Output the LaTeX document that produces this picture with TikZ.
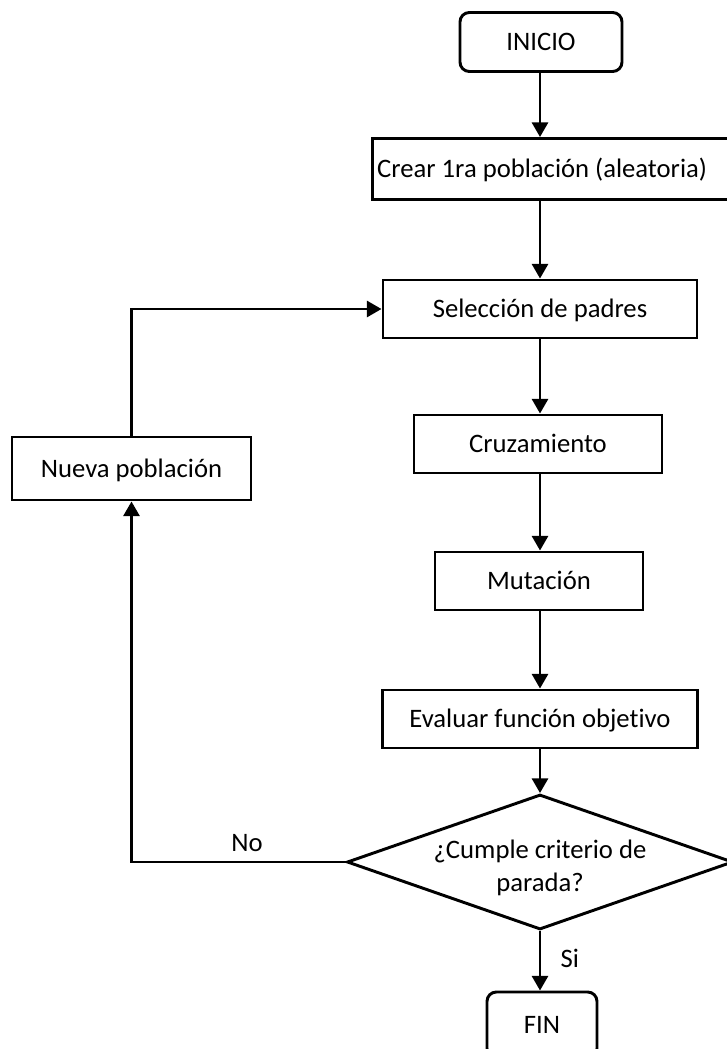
\documentclass[tikz,border=0pt]{standalone}
\usepackage{fontspec}
\setmainfont{Carlito}[Ligatures=NoCommon]
\usetikzlibrary{shapes.geometric,arrows.meta}
\tikzset{label text/.style = {font=\fontsize{20}{25}\selectfont}}
\tikzset{block/.style = {draw=black,line width=2.2pt,inner sep=0pt,text height=12.9pt,text depth=0pt,label text}}
\tikzset{term/.style = {block,rounded corners=7pt}}
\tikzset{decision/.style = {draw=black,line width=2.2pt,inner sep=0pt,diamond,label text}}
\tikzset{arrow/.style = {-{Triangle[width=12pt,length=11pt]},line width=2.2pt}}

\begin{document}
\begin{tikzpicture}[x=0.75pt,y=-0.75pt]
		\useasboundingbox (0,0) rectangle (727,1049);
		\node[term, minimum width=121.5pt, minimum height=44.25pt] (inicio) at (541,42) {INICIO};
		\node[block, minimum height=45.75pt, inner xsep=3.75pt, text width=264.5pt, align=flush left] (crear) at (553.5,169) {Crear 1ra población (aleatoria)};
		\node[block, minimum width=235.5pt, minimum height=43.5pt] (sel) at (540,309) {Selección de padres};
		\node[block, minimum width=186pt, minimum height=43.5pt] (cruz) at (538,444) {Cruzamiento};
		\node[block, minimum width=156pt, minimum height=43.5pt] (mut) at (539,581) {Mutación};
		\node[block, minimum width=236.25pt, minimum height=43.5pt] (eval) at (540,719) {Evaluar función objetivo};
		\node[decision, minimum width=289.5pt, minimum height=101.25pt] (dec) at (540,862)
			{\makebox[0pt]{\raisebox{-10pt}[0pt][0pt]{\begin{tabular}{@{}c@{}}¿Cumple criterio de\\parada?\end{tabular}}}};
		\node[term, minimum width=82.5pt, minimum height=49.5pt] (fin) at (542,1025) {FIN};
		\node[block, minimum width=179.25pt, minimum height=47.25pt] (nueva) at (131.5,468.5) {Nueva población};
		\draw[arrow] (inicio.south -| dec) -- (crear.north -| dec);
		\draw[arrow] (crear.south -| dec) -- (sel.north -| dec);
		\draw[arrow] (sel.south -| dec) -- (cruz.north -| dec);
		\draw[arrow] (cruz.south -| dec) -- (mut.north -| dec);
		\draw[arrow] (mut.south -| dec) -- (eval.north -| dec);
		\draw[arrow] (eval.south -| dec) -- (dec.north);
		\draw[arrow] (dec.south) -- node[right=11pt, yshift=1.5pt, label text] {Si} (dec.south |- fin.north);
		\draw[arrow] (dec.west) -- node[above=3pt, pos=0.46, label text] {No} (dec.west -| nueva) -- (nueva.south);
		\draw[arrow] (nueva.north) |- (sel.west);
	\end{tikzpicture}
\end{document}
